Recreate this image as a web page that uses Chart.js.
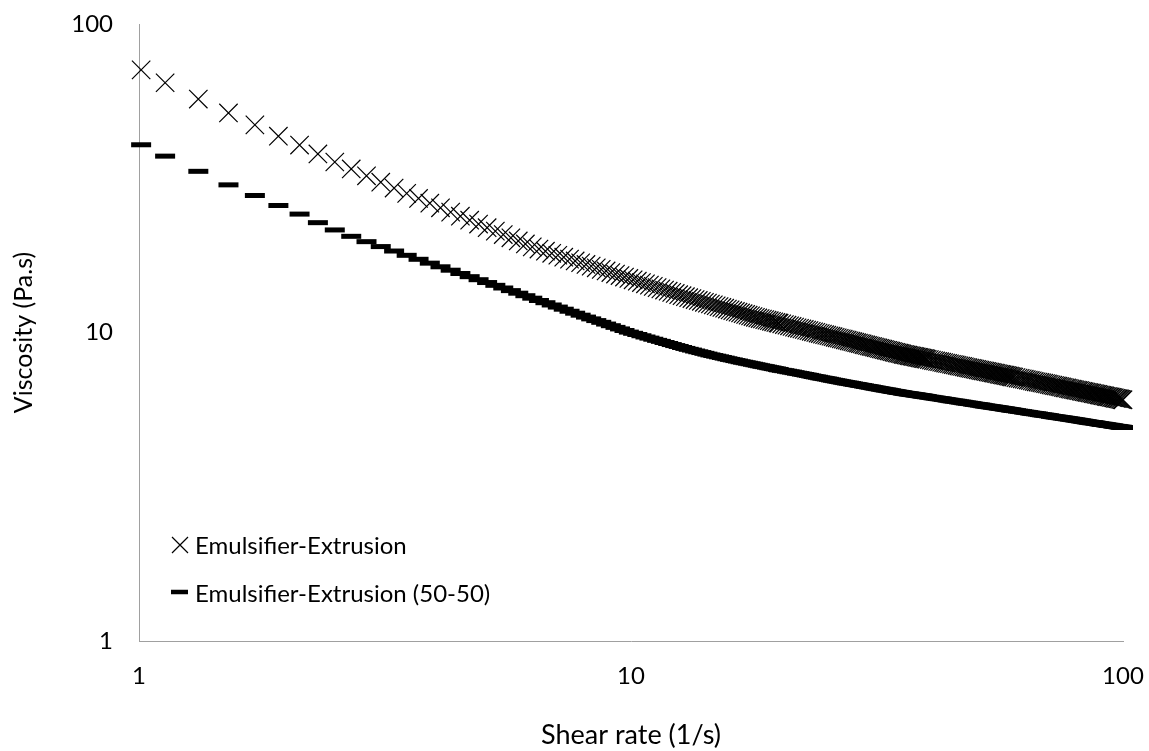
<!DOCTYPE html>
<html><head><meta charset="utf-8">
<script src="https://cdn.jsdelivr.net/npm/chart.js@4"></script>
<style>html,body{margin:0;padding:0;background:#fff;}#wrap{width:1149px;height:751px;}</style>
</head><body>
<div id="wrap"><canvas id="c" width="1149" height="751"></canvas></div>
<script>
const shearRate = [1.01,1.13,1.32,1.52,1.72,1.92,2.12,2.31,2.5,2.7,2.9,3.1,3.3,3.5,3.7,3.9,4.1,4.3,4.5,4.7,4.9,5.1,5.3,5.5,5.7,5.9,6.1,6.3,6.5,6.7,6.9,7.1,7.3,7.5,7.7,7.9,8.1,8.3,8.5,8.7,8.9,9.1,9.3,9.5,9.7,9.9,10.1,10.3,10.5,10.7,10.9,11.1,11.3,11.5,11.7,11.9,12.1,12.3,12.5,12.7,12.9,13.1,13.3,13.5,13.7,13.9,14.1,14.3,14.5,14.7,14.9,15.1,15.3,15.5,15.7,15.9,16.1,16.3,16.5,16.7,16.9,17.1,17.3,17.5,17.7,17.9,18.1,18.3,18.5,18.7,18.9,19.1,19.3,19.5,19.7,19.9,
20,20.25,20.5,20.75,21,21.25,21.5,21.75,22,22.25,22.5,22.75,23,23.25,23.5,23.75,24,24.25,24.5,24.75,25,25.25,25.5,25.75,26,26.25,26.5,26.75,27,27.25,27.5,27.75,28,28.25,28.5,28.75,29,29.25,29.5,29.75,30,30.25,30.5,30.75,31,31.25,31.5,31.75,32,32.25,32.5,32.75,33,33.25,33.5,33.75,34,34.25,34.5,34.75,35,35.25,35.5,35.75,36,36.25,36.5,36.75,37,37.25,37.5,37.75,38,38.25,38.5,38.75,39,39.25,39.5,39.75,
40,40.4,40.8,41.2,41.6,42,42.4,42.8,43.2,43.6,44,44.4,44.8,45.2,45.6,46,46.4,46.8,47.2,47.6,48,48.4,48.8,49.2,49.6,50,50.4,50.8,51.2,51.6,52,52.4,52.8,53.2,53.6,54,54.4,54.8,55.2,55.6,56,56.4,56.8,57.2,57.6,58,58.4,58.8,59.2,59.6,
60,60.6,61.2,61.8,62.4,63,63.6,64.2,64.8,65.4,66,66.6,67.2,67.8,68.4,69,69.6,70.2,70.8,71.4,72,72.6,73.2,73.8,74.4,75,75.6,76.2,76.8,77.4,78,78.6,79.2,79.8,80.4,81,81.6,82.2,82.8,83.4,84,84.6,85.2,85.8,86.4,87,87.6,88.2,88.8,89.4,90,90.6,91.2,91.8,92.4,93,93.6,94.2,94.8,95.4,96,96.6,97.2,97.8,98.4,99,99.6,100];

const viscosityEmulsifier = [71.0,64.5,57.1,51.5,47.1,43.3,40.5,37.9,35.7,33.9,32.2,30.7,29.4,
28.25,27.20,26.25,25.37,24.56,23.82,23.12,22.47,21.87,21.31,20.77,20.28,19.81,19.36,18.95,
18.64,18.34,18.06,17.80,17.54,17.29,17.06,16.83,16.62,16.41,16.21,16.02,15.83,15.64,15.47,15.30,15.13,14.97,14.82,14.67,14.52,14.38,14.24,14.11,13.98,13.85,13.73,13.61,13.49,13.38,13.26,
13.16,13.06,12.97,12.88,12.79,12.70,12.62,12.53,12.45,12.37,12.29,12.21,12.13,12.06,11.99,11.91,11.84,11.77,11.70,11.64,11.57,11.51,11.44,11.38,11.32,11.26,
11.20,11.15,11.10,11.06,11.01,10.96,10.92,10.87,10.83,10.78,10.74,
10.72,10.67,10.61,10.56,10.51,10.46,10.41,10.36,10.32,10.27,10.23,10.18,10.14,10.09,10.05,10.01,9.96,9.92,9.88,9.84,9.80,9.76,9.73,9.69,9.65,9.61,9.58,9.54,9.51,9.47,9.44,9.40,9.37,9.34,9.30,9.27,9.24,9.21,9.18,9.14,9.11,9.08,9.05,9.02,9.00,8.97,8.94,8.91,8.88,8.85,8.83,8.80,8.77,8.75,8.72,8.70,8.67,8.64,8.62,8.59,8.57,8.55,8.52,8.50,8.48,8.46,8.44,8.42,8.40,8.39,8.37,8.35,8.33,8.31,8.30,8.28,8.26,8.24,8.23,8.21,
8.19,8.17,8.14,8.11,8.09,8.06,8.04,8.01,7.99,7.96,7.94,7.92,7.89,7.87,7.85,7.83,7.80,7.78,7.76,7.74,7.71,7.69,7.67,7.65,7.63,7.61,7.59,7.57,7.55,7.53,7.51,7.50,7.48,7.46,7.44,7.42,7.40,7.39,7.37,7.35,7.33,7.31,7.30,7.28,7.27,7.25,7.23,7.22,7.20,7.18,
7.17,7.14,7.12,7.10,7.08,7.06,7.03,7.01,6.99,6.97,6.94,6.92,6.91,6.89,6.87,6.85,6.83,6.81,6.79,6.77,6.75,6.73,6.71,6.70,6.68,6.66,6.64,6.62,6.61,6.59,6.57,6.55,6.54,6.52,6.51,6.49,6.48,6.46,6.44,6.43,6.41,6.40,6.38,6.37,6.36,6.34,6.33,6.31,6.30,6.28,6.27,6.25,6.24,6.23,6.21,6.20,6.19,6.18,6.16,6.15,6.14,6.12,6.11,6.10,6.09,6.07,6.06,6.05];

const viscosity5050 = [40.6,37.3,33.3,30.1,27.8,25.8,24.2,22.7,21.5,20.5,19.70,18.99,18.37,
17.79,17.27,16.78,16.33,15.92,15.53,15.17,14.83,14.52,14.22,13.94,
13.67,13.41,13.16,12.92,12.70,12.49,12.28,12.09,11.90,11.72,11.55,11.38,11.22,11.07,10.93,10.79,10.65,10.52,10.39,10.27,10.15,10.03,
9.94,9.85,9.76,9.67,9.59,9.51,9.43,9.36,9.28,9.21,9.14,9.07,9.01,8.94,8.88,8.82,8.77,8.71,8.66,8.61,8.56,8.51,8.46,8.42,8.38,8.34,8.30,8.26,8.22,8.18,8.15,8.11,8.08,8.04,8.01,7.98,7.95,7.92,7.89,
7.86,7.83,7.80,7.77,7.75,7.72,7.69,7.67,7.64,7.62,7.59,
7.57,7.54,7.52,7.49,7.46,7.44,7.41,7.38,7.36,7.33,7.31,7.28,7.26,7.23,7.20,7.18,7.16,7.13,7.11,7.09,7.07,7.05,7.02,7.00,6.98,6.96,6.94,6.92,6.90,6.88,6.86,6.85,6.83,6.81,6.79,6.78,6.76,6.74,6.73,6.71,6.69,6.68,6.66,6.65,6.63,6.61,6.60,6.58,6.57,6.55,6.54,6.52,6.51,6.50,6.48,6.47,6.45,6.44,6.43,6.41,6.40,6.39,6.38,6.36,6.35,6.34,6.33,6.32,6.31,6.30,6.29,6.28,6.27,6.26,6.25,6.24,6.23,6.22,6.21,6.20,
6.19,6.17,6.16,6.14,6.13,6.11,6.10,6.09,6.07,6.06,6.04,6.03,6.01,6.00,5.99,5.98,5.96,5.95,5.94,5.92,5.91,5.90,5.89,5.88,5.86,5.85,5.84,5.83,5.82,5.81,5.79,5.78,5.77,5.76,5.75,5.74,5.73,5.72,5.71,5.70,5.69,5.68,5.67,5.66,5.65,5.64,5.63,5.62,5.61,5.60,
5.59,5.58,5.56,5.55,5.54,5.52,5.51,5.50,5.48,5.47,5.46,5.45,5.44,5.42,5.41,5.40,5.39,5.38,5.37,5.35,5.34,5.33,5.32,5.31,5.30,5.29,5.28,5.27,5.26,5.25,5.24,5.23,5.22,5.21,5.20,5.19,5.18,5.17,5.16,5.15,5.14,5.13,5.12,5.11,5.10,5.10,5.09,5.08,5.07,5.06,5.05,5.04,5.04,5.03,5.02,5.01,5.00,5.00,4.99,4.98,4.97,4.96,4.96,4.95,4.94,4.93,4.93,4.92];

const tickValues = [1, 10, 100];
const seriesNames = ['Emulsifier-Extrusion', 'Emulsifier-Extrusion (50-50)'];
const axisTitles = {x: 'Shear rate (1/s)', y: 'Viscosity (Pa.s)'};

const FONT = 'Lato, "Open Sans", sans-serif';
const toPoints = ys => shearRate.map((x, i) => ({x: x, y: ys[i]}));

const insideLegend = {
  id: 'insideLegend',
  afterDraw(chart) {
    const ctx = chart.ctx;
    ctx.save();
    ctx.strokeStyle = '#000';
    ctx.lineWidth = 1.2;
    ctx.beginPath();
    ctx.moveTo(172, 537); ctx.lineTo(188, 553);
    ctx.moveTo(188, 537); ctx.lineTo(172, 553);
    ctx.stroke();
    ctx.lineWidth = 4.5;
    ctx.beginPath();
    ctx.moveTo(171, 592); ctx.lineTo(188, 592);
    ctx.stroke();
    ctx.fillStyle = '#000';
    ctx.font = '24px ' + FONT;
    ctx.textAlign = 'left';
    ctx.textBaseline = 'alphabetic';
    ctx.fillText(chart.data.datasets[0].label, 195, 554);
    ctx.fillText(chart.data.datasets[1].label, 195, 602);
    ctx.restore();
  }
};

new Chart(document.getElementById('c'), {
  type: 'scatter',
  data: {
    datasets: [
      {label: seriesNames[0], data: toPoints(viscosityEmulsifier), pointStyle: 'crossRot', pointRadius: 13,
       pointBorderWidth: 1.2, borderColor: '#000', backgroundColor: '#000', showLine: false, clip: false},
      {label: seriesNames[1], data: toPoints(viscosity5050), pointStyle: 'line', pointRadius: 10,
       pointBorderWidth: 5, borderColor: '#000', backgroundColor: '#000', showLine: false, clip: false}
    ]
  },
  options: {
    responsive: false,
    devicePixelRatio: 1,
    animation: false,
    events: [],
    layout: {padding: {left: 0, right: 26, top: 24, bottom: 0}},
    plugins: {legend: {display: false}, tooltip: {enabled: false}},
    scales: {
      x: {
        type: 'logarithmic', min: 1, max: 100, position: 'bottom',
        afterBuildTicks: s => { s.ticks = tickValues.map(v => ({value: v})); },
        afterFit: s => { s.height = 110; s.paddingLeft = 0; s.paddingRight = 0; },
        grid: {display: false, drawTicks: false},
        border: {display: true, color: '#a0a0a0', width: 1},
        ticks: {padding: 21, color: '#000', font: {family: FONT, size: 24}, callback: v => String(v), maxRotation: 0, autoSkip: false},
        title: {display: true, text: axisTitles.x, color: '#000', font: {family: FONT, size: 27}, padding: {top: 0, bottom: 0}}
      },
      y: {
        type: 'logarithmic', min: 1, max: 100, position: 'left',
        afterBuildTicks: s => { s.ticks = tickValues.map(v => ({value: v})); },
        afterFit: s => { s.width = 139; s.paddingTop = 0; s.paddingBottom = 0; },
        grid: {display: false, drawTicks: false},
        border: {display: true, color: '#a0a0a0', width: 1},
        ticks: {padding: 26, color: '#000', font: {family: FONT, size: 24}, callback: v => String(v), autoSkip: false},
        title: {display: true, text: axisTitles.y, color: '#000', font: {family: FONT, size: 25}, padding: {top: 9, bottom: 0}}
      }
    }
  },
  plugins: [insideLegend]
});
</script>
</body></html>
